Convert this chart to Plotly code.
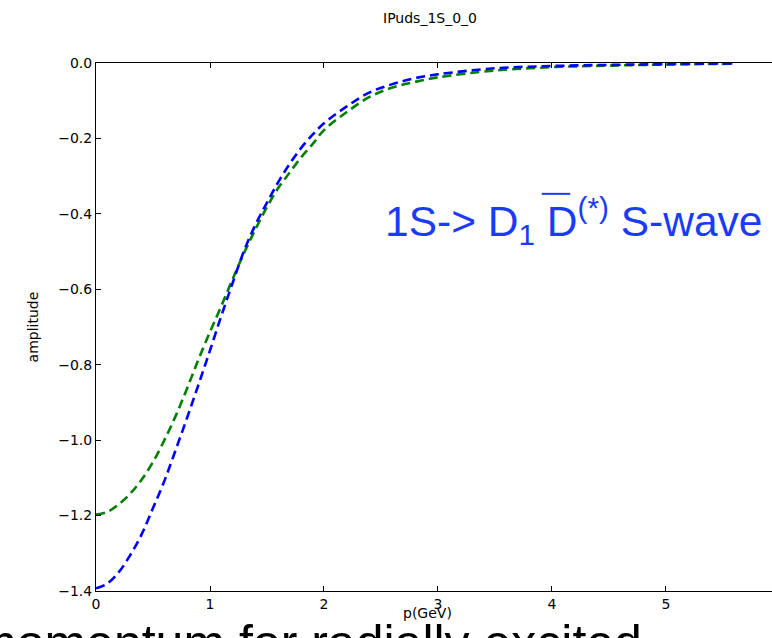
import plotly.graph_objects as go

# momentum grid (GeV) and the two amplitude curves
p_blue = [0.0, 0.1, 0.2, 0.3, 0.4, 0.5, 0.6, 0.7, 0.8, 0.9, 1.0, 1.1, 1.2, 1.3, 1.4,
          1.5, 1.6, 1.7, 1.8, 1.9, 2.0, 2.2, 2.4, 2.6, 2.8, 3.0, 3.5, 4.0, 4.5, 5.0, 5.6]
amp_blue = [-1.393, -1.38, -1.35, -1.305, -1.25, -1.18, -1.108, -1.025, -0.94, -0.852, -0.762,
            -0.67, -0.582, -0.497, -0.428, -0.37, -0.315, -0.267, -0.225, -0.19, -0.16,
            -0.115, -0.078, -0.056, -0.04, -0.03, -0.014, -0.008, -0.005, -0.003, -0.001]

p_green = [0.0, 0.1, 0.2, 0.3, 0.4, 0.5, 0.6, 0.7, 0.8, 0.9, 1.0, 1.1, 1.2, 1.3, 1.4,
           1.5, 1.6, 1.7, 1.8, 1.9, 2.0, 2.2, 2.4, 2.6, 2.8, 3.0, 3.5, 4.0, 4.5, 5.0, 5.6]
amp_green = [-1.197, -1.19, -1.17, -1.142, -1.105, -1.058, -1.0, -0.935, -0.862, -0.785, -0.713,
             -0.644, -0.572, -0.503, -0.44, -0.382, -0.331, -0.29, -0.25, -0.215, -0.178,
             -0.13, -0.09, -0.065, -0.05, -0.038, -0.02, -0.011, -0.007, -0.004, -0.002]

x_ticks = [0, 1, 2, 3, 4, 5]
y_ticks = [0.0, -0.2, -0.4, -0.6, -0.8, -1.0, -1.2, -1.4]

TICK_FONT = dict(family="DejaVu Sans", size=14, color="black")
BLUE_TEXT = "#1a3cf8"

fig = go.Figure()
fig.add_trace(go.Scatter(x=p_green, y=amp_green, mode="lines", line_shape="spline",
                         line=dict(color="#008000", width=2.6, dash="9px,5px"),
                         showlegend=False))
fig.add_trace(go.Scatter(x=p_blue, y=amp_blue, mode="lines", line_shape="spline",
                         line=dict(color="#0000ff", width=2.6, dash="9px,5px"),
                         showlegend=False))

fig.update_layout(
    width=772, height=638,
    margin=dict(l=96, r=0, t=63, b=47),
    paper_bgcolor="white", plot_bgcolor="white",
    title=dict(text="IPuds_1S_0_0", x=0.557, xanchor="center", y=0.972, yanchor="middle",
               font=dict(family="DejaVu Sans", size=14, color="black")),
    xaxis=dict(range=[0, 5.93], tickvals=x_ticks, ticktext=[str(v) for v in x_ticks],
               ticks="inside", ticklen=5, tickcolor="black", showline=True, linecolor="black",
               linewidth=1, mirror="ticks", showgrid=False, zeroline=False,
               tickfont=TICK_FONT),
    yaxis=dict(range=[-1.4, 0.0], tickvals=y_ticks, tickformat=".1f",
               ticks="inside", ticklen=5, tickcolor="black", showline=True, linecolor="black",
               linewidth=1, showgrid=False, zeroline=False, tickfont=TICK_FONT,
               title=dict(text="amplitude", font=TICK_FONT, standoff=16)),
)

# caption running along the bottom edge (drawn first so the axis label sits over it)
fig.add_annotation(x=-0.182, y=-0.042, xref="paper", yref="paper", xanchor="left", yanchor="top",
                   text="momentum for radially excited", showarrow=False,
                   font=dict(family="Liberation Sans", size=50, color="black"))

# x-axis label
fig.add_annotation(x=0.49, y=-0.042, xref="paper", yref="paper", xanchor="center",
                   yanchor="middle", text="p(GeV)", showarrow=False, font=TICK_FONT)

# process label inside the axes
fig.add_annotation(x=2.518, y=-0.42, xref="x", yref="y", xanchor="left", yanchor="middle",
                   text="1S-&gt; D<sub>1</sub> D<sup>(*)</sup> S-wave", showarrow=False,
                   font=dict(family="Liberation Sans", size=42.5, color=BLUE_TEXT))
# bar over the anti-D
fig.add_shape(type="line", xref="x", yref="y", x0=3.91, x1=4.16, y0=-0.347, y1=-0.347,
              line=dict(color=BLUE_TEXT, width=2))

fig.write_html("out.html")
